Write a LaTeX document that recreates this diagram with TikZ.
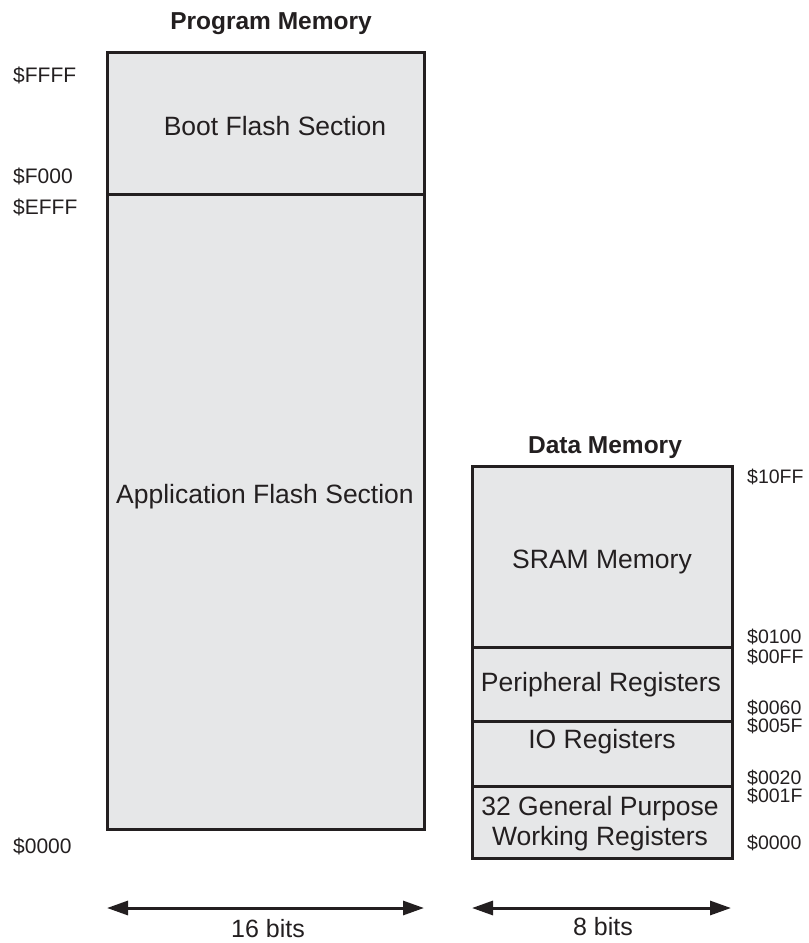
\documentclass[tikz,border=0pt]{standalone}
\usepackage{fontspec}
\setmainfont{Liberation Sans}
\usetikzlibrary{arrows.meta}
\definecolor{ink}{HTML}{231F20}
\definecolor{boxfill}{HTML}{E6E7E8}
\tikzset{
  membox/.style={draw=ink, fill=boxfill, line width=3pt, rectangle, inner sep=0pt, anchor=center},
  lbl/.style={text=ink, font=\fontsize{26.5}{30}\selectfont, inner sep=0pt, anchor=center, align=center},
  ttl/.style={text=ink, font=\bfseries\fontsize{24.5}{28}\selectfont, inner sep=0pt, anchor=center},
  addrL/.style={text=ink, font=\fontsize{21}{24}\selectfont, inner sep=0pt, anchor=west},
  addrR/.style={text=ink, font=\fontsize{19.5}{22}\selectfont, inner sep=0pt, anchor=west},
  dimarrow/.style={draw=ink, line width=3pt, {Triangle[length=21pt,width=14pt]}-{Triangle[length=21pt,width=14pt]}},
}
\begin{document}
\begin{tikzpicture}[x=1pt,y=-1pt]
\useasboundingbox (0,0) rectangle (809,943);
% Program memory
\node[ttl] (ptitle) at (271,24) {Program Memory};
\node[membox, minimum width=317pt, minimum height=635pt] (app) at (265.5,511.5) {};
\node[membox, minimum width=317pt, minimum height=142pt] (boot) at (265.5,123) {};
\node[lbl] (bootl) at (275,126) {Boot Flash Section};
\node[lbl] (appl) at (265,497) {Application Flash Section};
\node[addrL] (aFFFF) at (13,75) {\$FFFF};
\node[addrL] (aF000) at (13,176) {\$F000};
\node[addrL] (aEFFF) at (13,207) {\$EFFF};
\node[addrL] (a0000) at (13,846) {\$0000};
% Data memory
\node[ttl] (dtitle) at (605,447.5) {Data Memory};
\node[membox, minimum width=260pt, minimum height=181pt] (sram) at (602,556.5) {};
\node[membox, minimum width=260pt, minimum height=74pt] (per) at (602,684) {};
\node[membox, minimum width=260pt, minimum height=65pt] (io) at (602,753.5) {};
\node[membox, minimum width=260pt, minimum height=72pt] (gp) at (602,822) {};
\node[lbl] (sraml) at (602,562) {SRAM Memory};
\node[lbl] (perl) at (601,685) {Peripheral Registers};
\node[lbl] (iol) at (602,742) {IO Registers};
\node[lbl] (gpl1) at (600,809) {32 General Purpose};
\node[lbl] (gpl2) at (600,839) {Working Registers};
\node[addrR] (d10FF) at (747,477) {\$10FF};
\node[addrR] (d0100) at (747,637) {\$0100};
\node[addrR] (d00FF) at (747,657) {\$00FF};
\node[addrR] (d0060) at (747,708) {\$0060};
\node[addrR] (d005F) at (747,726) {\$005F};
\node[addrR] (d0020) at (747,778) {\$0020};
\node[addrR] (d001F) at (747,796) {\$001F};
\node[addrR] (d0000) at (747,843) {\$0000};
% Width arrows
\coordinate (p1) at (107,908);
\coordinate (p2) at (424,908);
\coordinate (q1) at (472,908);
\coordinate (q2) at (731,908);
\draw[dimarrow] (p1) -- (p2);
\draw[dimarrow] (q1) -- (q2);
\node[lbl, font=\fontsize{25}{28}\selectfont] (w16) at (268,929) {16 bits};
\node[lbl, font=\fontsize{25}{28}\selectfont] (w8) at (603,927) {8 bits};
\end{tikzpicture}
\end{document}
